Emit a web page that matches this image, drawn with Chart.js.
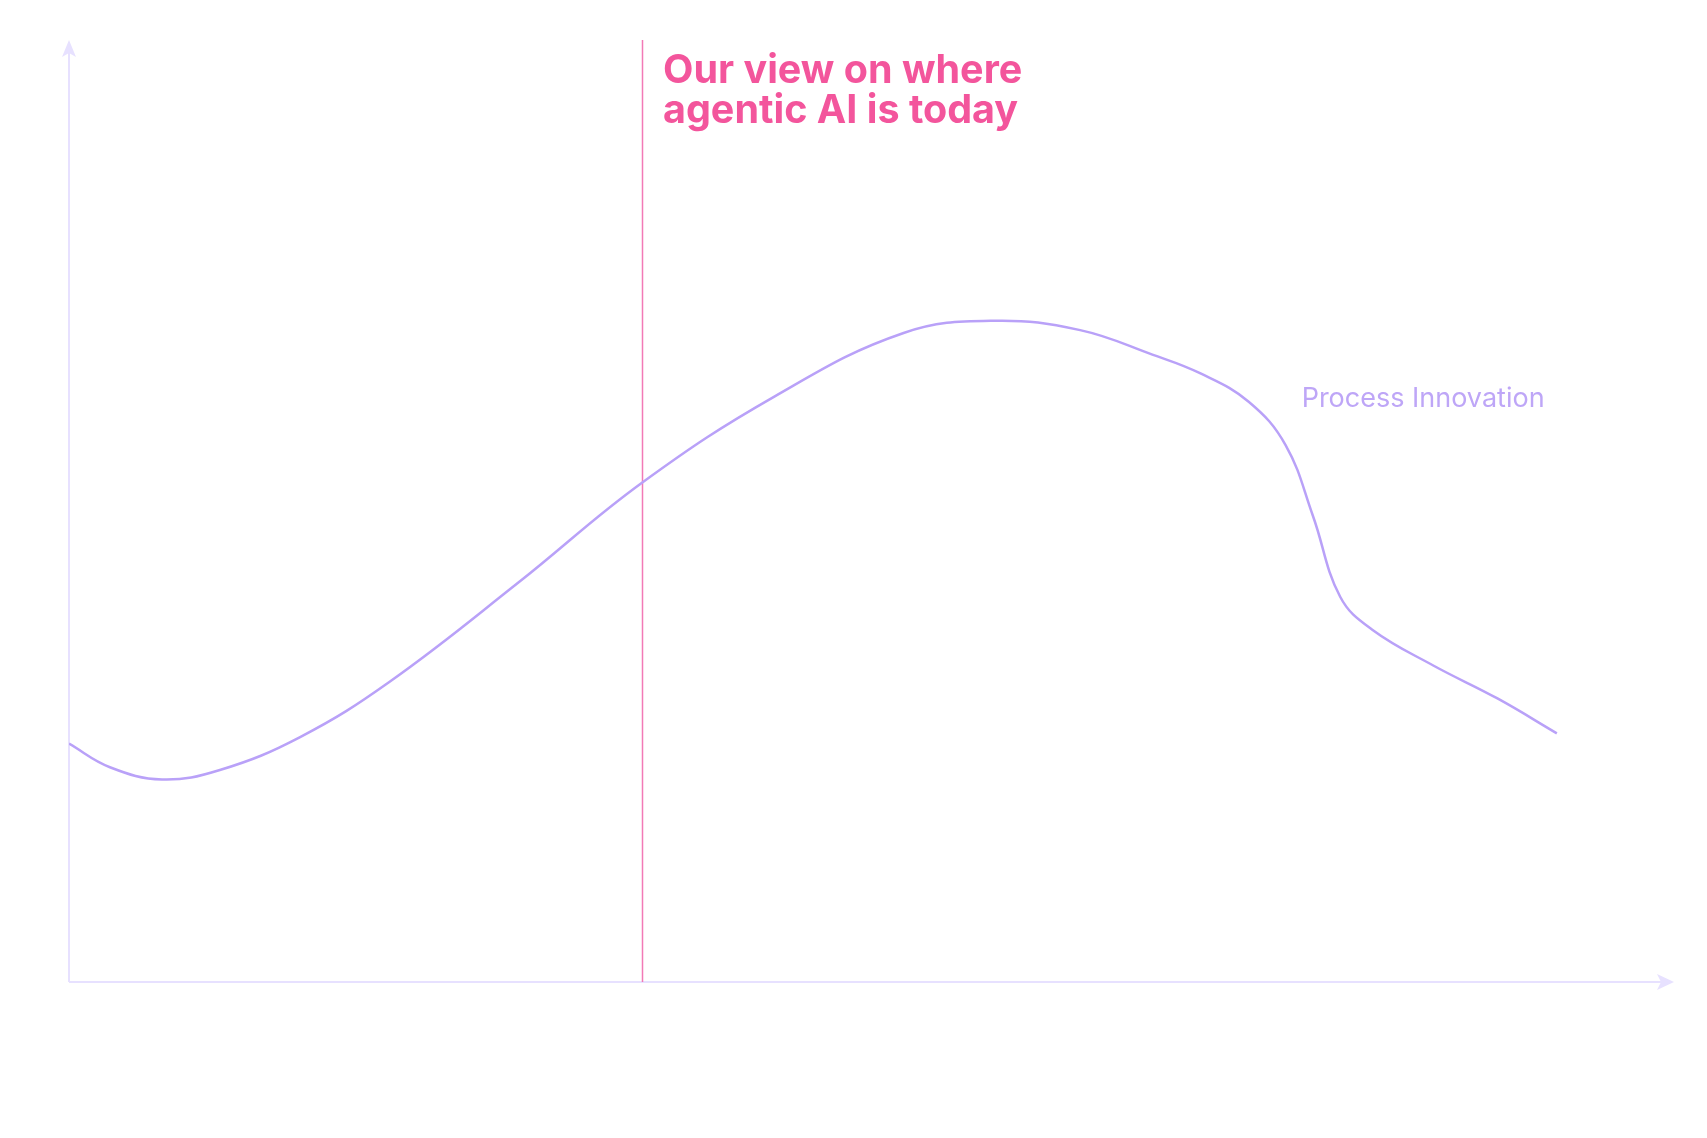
<!DOCTYPE html>
<html>
<head>
<meta charset="utf-8">
<title>Agentic AI curve</title>
<script src="https://cdn.jsdelivr.net/npm/chart.js@4.4.1/dist/chart.umd.min.js"></script>
<style>
  html, body { margin: 0; padding: 0; background: #ffffff; }
  #wrap { width: 1707px; height: 1138px; position: relative; }
</style>
</head>
<body>
<div id="wrap"><canvas id="curveChart"></canvas></div>
<script>
  // curve (x: 0-100 along time, y: 0-100 height)
  const curveX = [0, 2.55, 5.8, 9.4, 14.4, 20, 28, 35.7, 44, 52, 57.7, 63, 67.5, 70.5,
    73.5, 75.8, 77.5, 79.2, 81.2, 85, 89, 92.7];
  const curveY = [25.3, 22.8, 21.5, 22.5, 26.0, 31.9, 42.4, 53.0, 62.2, 68.9, 70.2, 69.2,
    66.6, 64.6, 61.6, 57.0, 49.5, 40.9, 37.4, 33.6, 30.1, 26.4];

  const seriesName = "Process Innovation";
  const seriesLabelAt = [76.8, 61.0];

  const todayX = 35.7;
  const todayLines = ["Our view on where", "agentic AI is today"];

  const points = curveX.map((x, i) => ({ x: x, y: curveY[i] }));

  // axes with arrowheads, the "today" marker and the text notes
  const decorPlugin = {
    id: "decor",
    beforeDatasetsDraw: function (chart) {
      const ctx = chart.ctx;
      const a = chart.chartArea;
      const xs = chart.scales.x;
      const axisColor = "#e7e1ff";

      ctx.save();
      ctx.strokeStyle = axisColor;
      ctx.fillStyle = axisColor;
      ctx.lineWidth = 2;

      // y axis
      ctx.beginPath();
      ctx.moveTo(a.left, a.bottom);
      ctx.lineTo(a.left, a.top + 10);
      ctx.stroke();
      ctx.beginPath();
      ctx.moveTo(a.left, a.top);
      ctx.lineTo(a.left - 7, a.top + 17);
      ctx.lineTo(a.left, a.top + 13);
      ctx.lineTo(a.left + 7, a.top + 17);
      ctx.closePath();
      ctx.fill();

      // x axis
      ctx.beginPath();
      ctx.moveTo(a.left, a.bottom);
      ctx.lineTo(a.right - 10, a.bottom);
      ctx.stroke();
      ctx.beginPath();
      ctx.moveTo(a.right, a.bottom);
      ctx.lineTo(a.right - 17, a.bottom - 8);
      ctx.lineTo(a.right - 13, a.bottom);
      ctx.lineTo(a.right - 17, a.bottom + 8);
      ctx.closePath();
      ctx.fill();

      // today marker
      const px = Math.round(xs.getPixelForValue(todayX)) + 0.5;
      ctx.strokeStyle = "#f27ab6";
      ctx.lineWidth = 1.5;
      ctx.beginPath();
      ctx.moveTo(px, a.top);
      ctx.lineTo(px, a.bottom);
      ctx.stroke();
      ctx.restore();
    },
    afterDatasetsDraw: function (chart) {
      const ctx = chart.ctx;
      const a = chart.chartArea;
      const xs = chart.scales.x;
      const ys = chart.scales.y;

      ctx.save();
      ctx.textBaseline = "alphabetic";
      ctx.textAlign = "left";

      const px = xs.getPixelForValue(todayX);
      ctx.fillStyle = "#f3559c";
      ctx.font = "700 39.5px Inter";
      todayLines.forEach((line, i) => {
        ctx.fillText(line, px + 21, a.top + 43 + i * 40);
      });

      ctx.fillStyle = "#bea6f7";
      ctx.font = "400 27px Inter";
      ctx.fillText(seriesName, xs.getPixelForValue(seriesLabelAt[0]),
        ys.getPixelForValue(seriesLabelAt[1]));
      ctx.restore();
    },
  };

  new Chart(document.getElementById("curveChart"), {
    type: "line",
    data: {
      datasets: [
        {
          label: seriesName,
          data: points,
          borderColor: "#b9a1f8",
          borderWidth: 2.5,
          pointRadius: 0,
          fill: false,
          tension: 0.4,
        },
      ],
    },
    options: {
      responsive: true,
      maintainAspectRatio: false,
      animation: false,
      layout: { padding: { left: 69, right: 33, top: 40, bottom: 156 } },
      plugins: {
        legend: { display: false },
        tooltip: { enabled: false },
      },
      scales: {
        x: { type: "linear", min: 0, max: 100, display: false },
        y: { type: "linear", min: 0, max: 100, display: false },
      },
    },
    plugins: [decorPlugin],
  });
</script>
</body>
</html>
